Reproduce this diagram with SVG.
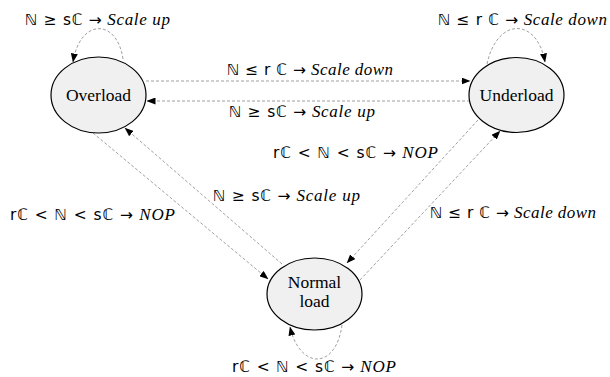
<svg xmlns="http://www.w3.org/2000/svg" width="610" height="377" viewBox="0 0 610 377">
<style>
.node{fill:#f0f0f0;stroke:#000;stroke-width:1.2}
.nl{font-family:'Liberation Serif',serif;font-size:17.5px;fill:#000;text-anchor:middle}
.lb{font-family:'Liberation Serif',serif;font-size:17px;fill:#000}
.m{font-family:'DejaVu Sans',sans-serif;font-size:15.5px}
.it{font-style:italic}
.e{fill:none;stroke:#777;stroke-width:0.7;stroke-dasharray:3,2;marker-end:url(#ah)}
</style>
<defs>
<marker id="ah" markerWidth="9" markerHeight="7" refX="8.5" refY="3.5" orient="auto" markerUnits="userSpaceOnUse">
<path d="M0,0 L9,3.5 L0,7 z" fill="#000"/>
</marker>
</defs>
<g id="connectors">
<path class="e" d="M123,59 C117,18 80,18 73,62"/>
<path class="e" d="M487,64 C497,17 537,17 545,62"/>
<path class="e" d="M342,325 C336,370 300,370 290,327"/>
<path class="e" d="M146,81 L470,81"/>
<path class="e" d="M470,101 L147,101"/>
<path class="e" d="M93,133 L268,279"/>
<path class="e" d="M282,264 L125,128"/>
<path class="e" d="M360,280 L500,131"/>
<path class="e" d="M478,120 L347,263"/>
</g>
<g id="labels">
<text class="lb" x="25" y="25" textLength="145" lengthAdjust="spacing"><tspan class="m">ℕ ≥ sℂ →</tspan> <tspan class="it">Scale up</tspan></text>
<text class="lb" x="438" y="25" textLength="169" lengthAdjust="spacing"><tspan class="m">ℕ ≤ r ℂ →</tspan> <tspan class="it">Scale down</tspan></text>
<text class="lb" x="227" y="75" textLength="166" lengthAdjust="spacing"><tspan class="m">ℕ ≤ r ℂ →</tspan> <tspan class="it">Scale down</tspan></text>
<text class="lb" x="229" y="117" textLength="146" lengthAdjust="spacing"><tspan class="m">ℕ ≥ sℂ →</tspan> <tspan class="it">Scale up</tspan></text>
<text class="lb" x="273" y="158" textLength="165" lengthAdjust="spacing"><tspan class="m">rℂ &lt; ℕ &lt; sℂ →</tspan> <tspan class="it">NOP</tspan></text>
<text class="lb" x="213" y="201" textLength="147" lengthAdjust="spacing"><tspan class="m">ℕ ≥ sℂ →</tspan> <tspan class="it">Scale up</tspan></text>
<text class="lb" x="10" y="220" textLength="165" lengthAdjust="spacing"><tspan class="m">rℂ &lt; ℕ &lt; sℂ →</tspan> <tspan class="it">NOP</tspan></text>
<text class="lb" x="430" y="218" textLength="166" lengthAdjust="spacing"><tspan class="m">ℕ ≤ r ℂ →</tspan> <tspan class="it">Scale down</tspan></text>
<text class="lb" x="232" y="372" textLength="164" lengthAdjust="spacing"><tspan class="m">rℂ &lt; ℕ &lt; sℂ →</tspan> <tspan class="it">NOP</tspan></text>
</g>
<g id="overload">
<ellipse class="node" cx="98.5" cy="95" rx="47.5" ry="38"/>
<text class="nl" x="98.5" y="101">Overload</text>
</g>
<g id="underload">
<ellipse class="node" cx="516.5" cy="95" rx="47.5" ry="37.5"/>
<text class="nl" x="516.5" y="101">Underload</text>
</g>
<g id="normal">
<ellipse class="node" cx="314.5" cy="294" rx="47.5" ry="36"/>
<text class="nl" x="314.5" y="288">Normal</text>
<text class="nl" x="314.5" y="307">load</text>
</g>
</svg>
